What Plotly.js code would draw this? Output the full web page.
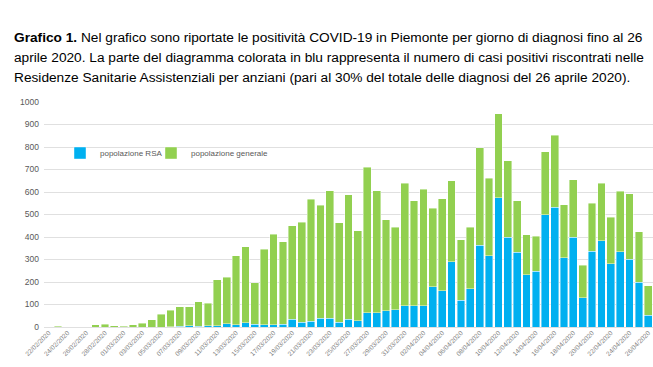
<!DOCTYPE html>
<html>
<head>
<meta charset="utf-8">
<script src="https://cdn.plot.ly/plotly-3.0.1.min.js"></script>
<style>
html,body{margin:0;padding:0;background:#fff;}
#chart{width:653px;height:367px;}
</style>
</head>
<body>
<div id="chart"></div>
<script>
// Dates (categories)
const dates = [
"22/02/2020","23/02/2020","24/02/2020","25/02/2020","26/02/2020","27/02/2020","28/02/2020","29/02/2020",
"01/03/2020","02/03/2020","03/03/2020","04/03/2020","05/03/2020","06/03/2020","07/03/2020","08/03/2020",
"09/03/2020","10/03/2020","11/03/2020","12/03/2020","13/03/2020","14/03/2020","15/03/2020","16/03/2020",
"17/03/2020","18/03/2020","19/03/2020","20/03/2020","21/03/2020","22/03/2020","23/03/2020","24/03/2020",
"25/03/2020","26/03/2020","27/03/2020","28/03/2020","29/03/2020","30/03/2020","31/03/2020",
"01/04/2020","02/04/2020","03/04/2020","04/04/2020","05/04/2020","06/04/2020","07/04/2020","08/04/2020",
"09/04/2020","10/04/2020","11/04/2020","12/04/2020","13/04/2020","14/04/2020","15/04/2020","16/04/2020",
"17/04/2020","18/04/2020","19/04/2020","20/04/2020","21/04/2020","22/04/2020","23/04/2020","24/04/2020",
"25/04/2020","26/04/2020"
];

// popolazione RSA (blue)
const rsa = [
0,0,0,0,0,0,0,0,
0,0,0,0,0,2,3,5,
4,6,6,15,10,18,13,10,
9,13,34,22,25,38,40,22,
34,28,64,64,73,76,95,
95,95,178,161,289,120,169,363,
316,575,400,333,233,247,499,532,
307,400,129,336,384,281,335,302,
200,53
];

// popolazione generale (green)
const generale = [
0,3,0,0,2,9,13,5,
3,9,16,33,57,73,87,86,
109,99,203,206,307,338,184,335,
403,366,415,443,542,504,566,441,
553,400,647,542,403,368,544,
466,517,349,409,361,268,274,433,
345,372,339,228,176,157,280,320,
237,255,145,214,256,206,269,291,
224,131
];

const tickLabels = dates.filter((d, i) => i % 2 === 0);

const titleLines = [
  '<b>Grafico 1.</b> Nel grafico sono riportate le positività COVID-19 in Piemonte per giorno di diagnosi fino al 26',
  'aprile 2020. La parte del diagramma colorata in blu rappresenta il numero di casi positivi riscontrati nelle',
  'Residenze Sanitarie Assistenziali per anziani (pari al 30% del totale delle diagnosi del 26 aprile 2020).'
];

const traces = [
  {
    type: 'bar', name: 'popolazione RSA', x: dates, y: rsa, legend: 'legend',
    marker: {color: '#00B0F0', line: {color: 'rgba(255,255,255,0.7)', width: 0.6}}
  },
  {
    type: 'bar', name: 'popolazione generale', x: dates, y: generale, legend: 'legend2',
    marker: {color: '#92D050', line: {color: 'rgba(255,255,255,0.7)', width: 0.6}}
  }
];

const W = 653, H = 367, ML = 44, MT = 102, PW = 609, PH = 225;
const px = v => (v - ML) / PW;
const py = v => 1 - (v - MT) / PH;

const legendFont = {size: 8, color: '#595959', family: 'Liberation Sans, Arial, sans-serif'};

const layout = {
  width: W, height: H,
  margin: {l: 44, r: 0, t: 102, b: 40, pad: 0},
  paper_bgcolor: '#fff', plot_bgcolor: '#fff',
  barmode: 'stack', bargap: 0.17,
  font: {family: 'Liberation Sans, Arial, sans-serif', color: '#595959'},
  xaxis: {
    type: 'category', tickmode: 'array', tickvals: tickLabels, ticktext: tickLabels,
    tickangle: -45, tickfont: {size: 6.5, color: '#7f7f7f'},
    showgrid: false, showline: false, ticks: '', zeroline: false, automargin: false
  },
  yaxis: {
    range: [0, 1000], tickvals: [0,100,200,300,400,500,600,700,800,900,1000],
    tickfont: {size: 8.5, color: '#595959'}, gridcolor: '#e0e0e0', gridwidth: 1,
    zeroline: true, zerolinecolor: '#e0e0e0', showline: false, ticks: '', automargin: false,
    ticklabelstandoff: 4
  },
  showlegend: true,
  legend: {
    orientation: 'h', x: px(60), y: py(153), xanchor: 'left', yanchor: 'middle',
    font: legendFont, bgcolor: 'rgba(0,0,0,0)', itemwidth: 30
  },
  legend2: {
    orientation: 'h', x: px(151), y: py(153), xanchor: 'left', yanchor: 'middle',
    font: legendFont, bgcolor: 'rgba(0,0,0,0)', itemwidth: 30
  },
  annotations: titleLines.map((t, i) => ({
    xref: 'paper', yref: 'paper', x: px(12), y: py(37 + i * 20.3), xanchor: 'left', yanchor: 'middle',
    align: 'left', showarrow: false,
    font: {family: 'Liberation Sans, Arial, sans-serif', size: 13.7, color: '#000'},
    text: t
  }))
};

Plotly.newPlot('chart', traces, layout, {displayModeBar: false, staticPlot: true});
</script>
</body>
</html>
